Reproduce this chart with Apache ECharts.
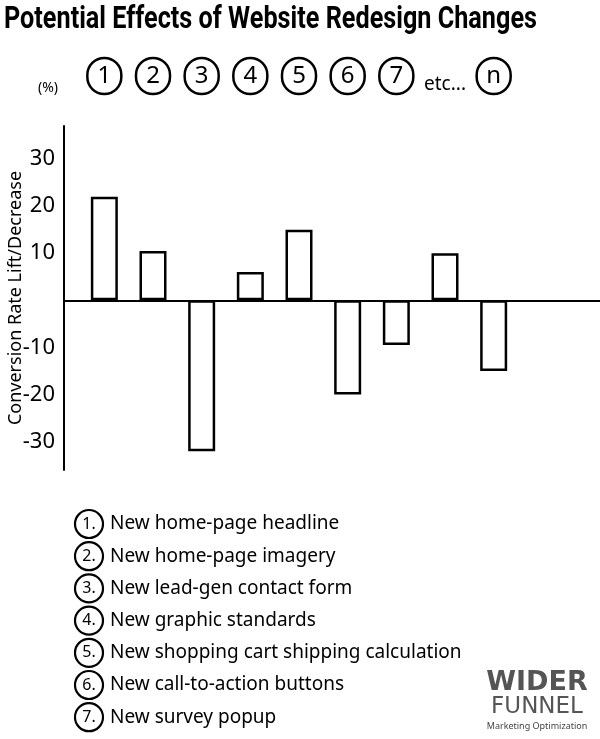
<!DOCTYPE html>
<html>
<head>
<meta charset="utf-8">
<script src="https://cdn.jsdelivr.net/npm/echarts@6/dist/echarts.min.js"></script>
<style>
  html, body { margin: 0; padding: 0; background: #fff; }
  #chart { width: 600px; height: 739px; }
</style>
</head>
<body>
<div id="chart"></div>
<script>
// header markers over each bar
const categories = ['1', '2', '3', '4', '5', '6', '7', 'etc...', 'n']
// conversion rate lift / decrease (%)
const values = [22, 10.5, -32, 6, 15, -20, -9.5, 10, -15]
const yTicks = [-30, -20, -10, 10, 20, 30]
const notes = [
  'New home-page headline',
  'New home-page imagery',
  'New lead-gen contact form',
  'New graphic standards',
  'New shopping cart shipping calculation',
  'New call-to-action buttons',
  'New survey popup'
]

const FONT = '"Noto Sans", "DejaVu Sans", sans-serif'
const TITLE = 'Potential Effects of Website Redesign Changes'
const TITLE_FONT = 'bold 31px Roboto, sans-serif'
const chart = echarts.init(document.getElementById('chart'))

// squeeze the title into a condensed look
const ctx = document.createElement('canvas').getContext('2d')
ctx.font = TITLE_FONT
const titleScale = 533 / ctx.measureText(TITLE).width

const noteGraphics = []
notes.forEach((txt, i) => {
  const y = 524 + i * 32.2
  noteGraphics.push({
    type: 'circle',
    shape: { cx: 89, cy: y, r: 14 },
    style: { fill: 'none', stroke: '#000', lineWidth: 2.2 }
  })
  noteGraphics.push({
    type: 'text',
    x: 89, y: y,
    style: { text: (i + 1) + '.', font: '16px ' + FONT, fill: '#000', textAlign: 'center', textVerticalAlign: 'middle' }
  })
  noteGraphics.push({
    type: 'text',
    x: 110, y: y,
    style: { text: txt, font: '19px ' + FONT, fill: '#000', textVerticalAlign: 'middle' }
  })
})

const option = {
  animation: false,
  backgroundColor: '#fff',
  grid: [
    { left: 80, width: 438, top: 126, height: 344, containLabel: false, outerBoundsMode: 'none' },
    { left: 64, right: 0, top: 126, height: 344, containLabel: false, outerBoundsMode: 'none' }
  ],
  xAxis: [
    {
      type: 'category',
      gridIndex: 0,
      data: categories,
      position: 'top',
      axisLine: { show: false, onZero: false },
      axisTick: { show: false },
      axisLabel: {
        interval: 0,
        margin: 32,
        formatter: (v) => v === 'etc...' ? '{e|' + v + '}' : '{c|' + v + '}',
        rich: {
          c: {
            fontFamily: FONT, fontSize: 24, color: '#000',
            width: 34, height: 36, lineHeight: 36, align: 'center',
            borderColor: '#000', borderWidth: 2.5, borderRadius: 19
          },
          e: { fontFamily: FONT, fontSize: 19, color: '#000' }
        }
      }
    },
    {
      type: 'value',
      gridIndex: 1,
      min: 0, max: 1,
      axisLine: { show: true, onZero: true, lineStyle: { color: '#000', width: 2 } },
      axisTick: { show: false },
      axisLabel: { show: false },
      splitLine: { show: false }
    }
  ],
  yAxis: [
    {
      type: 'value',
      gridIndex: 0,
      min: -36, max: 37,
      show: false
    },
    {
      type: 'value',
      gridIndex: 1,
      min: -36, max: 37,
      name: 'Conversion Rate Lift/Decrease',
      nameLocation: 'middle',
      nameRotate: 90,
      nameGap: 39,
      nameMoveOverlap: false,
      nameTextStyle: { fontFamily: FONT, fontSize: 18, color: '#000' },
      axisLine: { show: true, onZero: false, lineStyle: { color: '#000', width: 2 } },
      axisTick: { show: false },
      splitLine: { show: false },
      axisLabel: {
        margin: 9,
        fontFamily: FONT, fontSize: 22, color: '#000',
        showMinLabel: false, showMaxLabel: false,
        formatter: (v) => yTicks.indexOf(v) >= 0 ? String(v) : ''
      }
    }
  ],
  graphic: [
    {
      type: 'text', x: 4, y: 20, scaleX: titleScale,
      style: { text: TITLE, font: TITLE_FONT, fill: '#000', textVerticalAlign: 'middle' }
    },
    {
      type: 'text', x: 48, y: 88,
      style: { text: '(%)', font: '14px ' + FONT, fill: '#000', textAlign: 'center', textVerticalAlign: 'middle' }
    },
    ...noteGraphics,
    {
      type: 'text', x: 537, y: 683,
      style: { text: 'WIDER', font: 'bold 27px "DejaVu Sans", sans-serif', fill: '#555', textAlign: 'center', textVerticalAlign: 'middle' }
    },
    {
      type: 'text', x: 537, y: 707,
      style: { text: 'FUNNEL', font: '23px "DejaVu Sans", sans-serif', fill: '#555', textAlign: 'center', textVerticalAlign: 'middle' }
    },
    {
      type: 'text', x: 537, y: 726,
      style: { text: 'Marketing Optimization', font: '9px ' + FONT, fill: '#444', textAlign: 'center', textVerticalAlign: 'middle' }
    }
  ],
  series: [
    {
      type: 'bar',
      xAxisIndex: 0,
      yAxisIndex: 0,
      data: values,
      barWidth: 27,
      itemStyle: { color: '#fff', borderColor: '#000', borderWidth: 2.5 }
    }
  ]
}

chart.setOption(option)
</script>
</body>
</html>
